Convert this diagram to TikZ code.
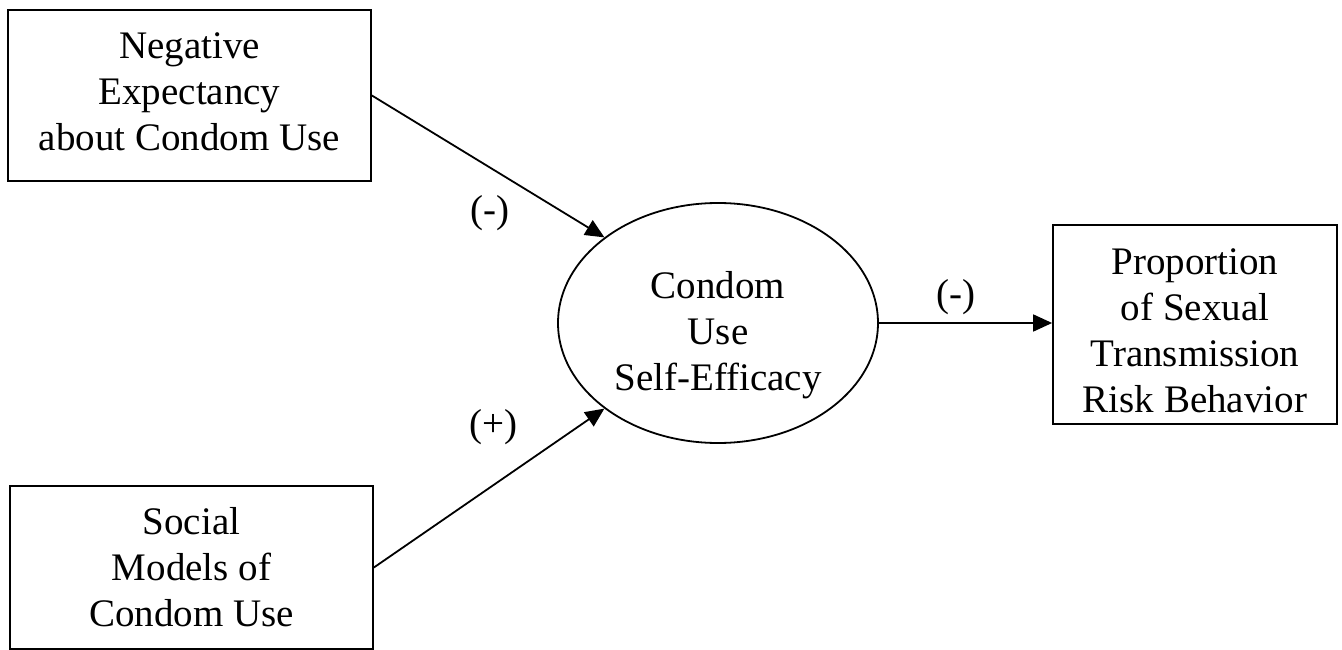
\documentclass[tikz,border=0pt]{standalone}
\usepackage{fontspec}
\setmainfont{Liberation Serif}
\usetikzlibrary{shapes.geometric,arrows.meta}
\begin{document}
\begin{tikzpicture}[x=1pt,y=-1pt,
  every node/.style={font=\fontsize{39}{46}\selectfont, align=center},
  box/.style={draw, line width=1.8pt, rectangle, inner sep=0pt},
  oval/.style={draw, line width=1.8pt, ellipse, inner sep=0pt, minimum width=320pt, minimum height=240pt},
  conn/.style={line width=1.8pt, -{Triangle[length=19pt,width=17pt]}},
  sign/.style={inner sep=0pt}]
\useasboundingbox (0,0) rectangle (1342,650);
\node[box, minimum width=363pt, minimum height=171pt] (neg) at (189.5,95.5) {Negative\\Expectancy\\about Condom Use\rule[-8pt]{0pt}{8pt}};
\node[box, minimum width=363pt, minimum height=163pt] (soc) at (191.5,567.5) {Social\\Models of\\Condom Use};
\node[oval] (cse) at (718,323) {\rule{0pt}{51pt}Condom\\Use\\Self-Efficacy};
\node[box, minimum width=284pt, minimum height=199pt] (prop) at (1195,324.5) {\rule{0pt}{39pt}Proportion\\of Sexual\\Transmission\\Risk Behavior};
\draw[conn] (neg.east) -- (cse.143);
\draw[conn] (soc.east) -- (cse.217);
\draw[conn] (cse.east) -- (cse.east -| prop.west);
\node[sign] (l1) at (490,213) {(-)};
\node[sign] (l2) at (493,427) {(+)};
\node[sign] (l3) at (956,297) {(-)};
\end{tikzpicture}
\end{document}
